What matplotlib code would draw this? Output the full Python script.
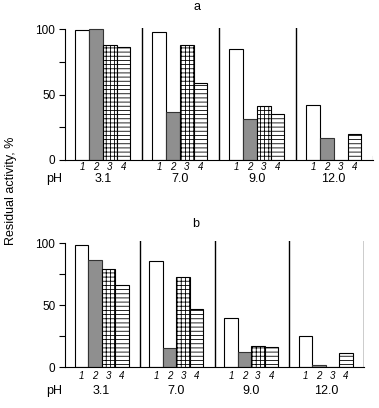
import matplotlib.pyplot as plt
from matplotlib.ticker import MultipleLocator

# data
ph_labels = ["3.1", "7.0", "9.0", "12.0"]
bar_labels = ["1", "2", "3", "4"]

a1 = [99.5, 97.5, 84.5, 42]
a2 = [100, 37, 31, 17]
a3 = [88, 88, 41.5, 0]
a4 = [86, 59, 35.5, 20]

b1 = [99, 85.5, 40, 25]
b2 = [87, 15, 12, 2]
b3 = [79, 73, 17, 0]
b4 = [66, 47, 16, 11]

plt.rcParams['font.family'] = ['Liberation Sans', 'DejaVu Sans']
plt.rcParams['font.size'] = 8
plt.rcParams['hatch.linewidth'] = 0.6

W, H = 379, 408
fig = plt.figure(figsize=(W / 100, H / 100), dpi=100)

width = 0.18
offs = [0.22, 0.40, 0.58, 0.76]
styles = [
    dict(color='white', edgecolor='black'),
    dict(color='#8f8f8f', edgecolor='#333333'),
    dict(color='white', edgecolor='black', hatch='++++'),
    dict(color='white', edgecolor='black', hatch='----'),
]


def panel(rect, series, ymax, right_line, title, title_xy, lab_pad, ph_pad):
    ax = fig.add_axes(rect)
    for k, vals in enumerate(series):
        xs = [g + offs[k] for g in range(len(vals))]
        ax.bar(xs, vals, width, linewidth=0.8, **styles[k])
    ax.set_xlim(0, 4)
    ax.set_ylim(0, ymax)
    for s in ['top', 'right']:
        ax.spines[s].set_visible(False)
    ax.spines['left'].set_bounds(0, 100)
    ax.spines['left'].set_linewidth(0.8)
    ax.spines['bottom'].set_linewidth(0.8)
    for g in range(1, 4):
        ax.axvline(g, color='black', lw=1)
    if right_line:
        ax.axvline(4, color='black', lw=1)
    else:
        ax.axvline(4, ymax=0.03, color='black', lw=0.8)
    ax.yaxis.set_major_locator(MultipleLocator(50))
    ax.yaxis.set_minor_locator(MultipleLocator(25))
    ax.tick_params(axis='y', which='both', direction='out', length=4, width=0.8, labelsize=8.5, pad=3)
    # bar numbers as x tick labels
    ticks = [g + o for g in range(4) for o in offs]
    ax.set_xticks(ticks)
    ax.set_xticklabels(bar_labels * 4, fontstyle='italic', fontsize=7)
    ax.tick_params(axis='x', length=0, pad=lab_pad)
    trans = ax.get_xaxis_transform()
    for g, lab in enumerate(ph_labels):
        ax.annotate(lab, (g + 0.49, 0), xycoords=trans, xytext=(0, -ph_pad),
                    textcoords='offset points', ha='center', va='center', fontsize=9)
    ax.annotate("pH", (0, 0), xycoords=trans, xytext=(-8, -ph_pad),
                textcoords='offset points', ha='center', va='center', fontsize=9)
    fig.text(title_xy[0] / W, 1 - title_xy[1] / H, title, ha='center', va='center', fontsize=9)
    return ax


panel([65 / W, 1 - 160 / H, 308 / W, 132 / H], [a1, a2, a3, a4], 100.8, False,
      "a", (197, 7), 1.5, 13.5)
panel([65 / W, 1 - 367 / H, 299 / W, 126 / H], [b1, b2, b3, b4], 102, True,
      "b", (196, 224), 3, 17.5)

fig.text(11 / W, 1 - 191 / H, "Residual activity, %", rotation=90,
         ha='center', va='center', fontsize=9)

fig.savefig("out.png", dpi=100)
